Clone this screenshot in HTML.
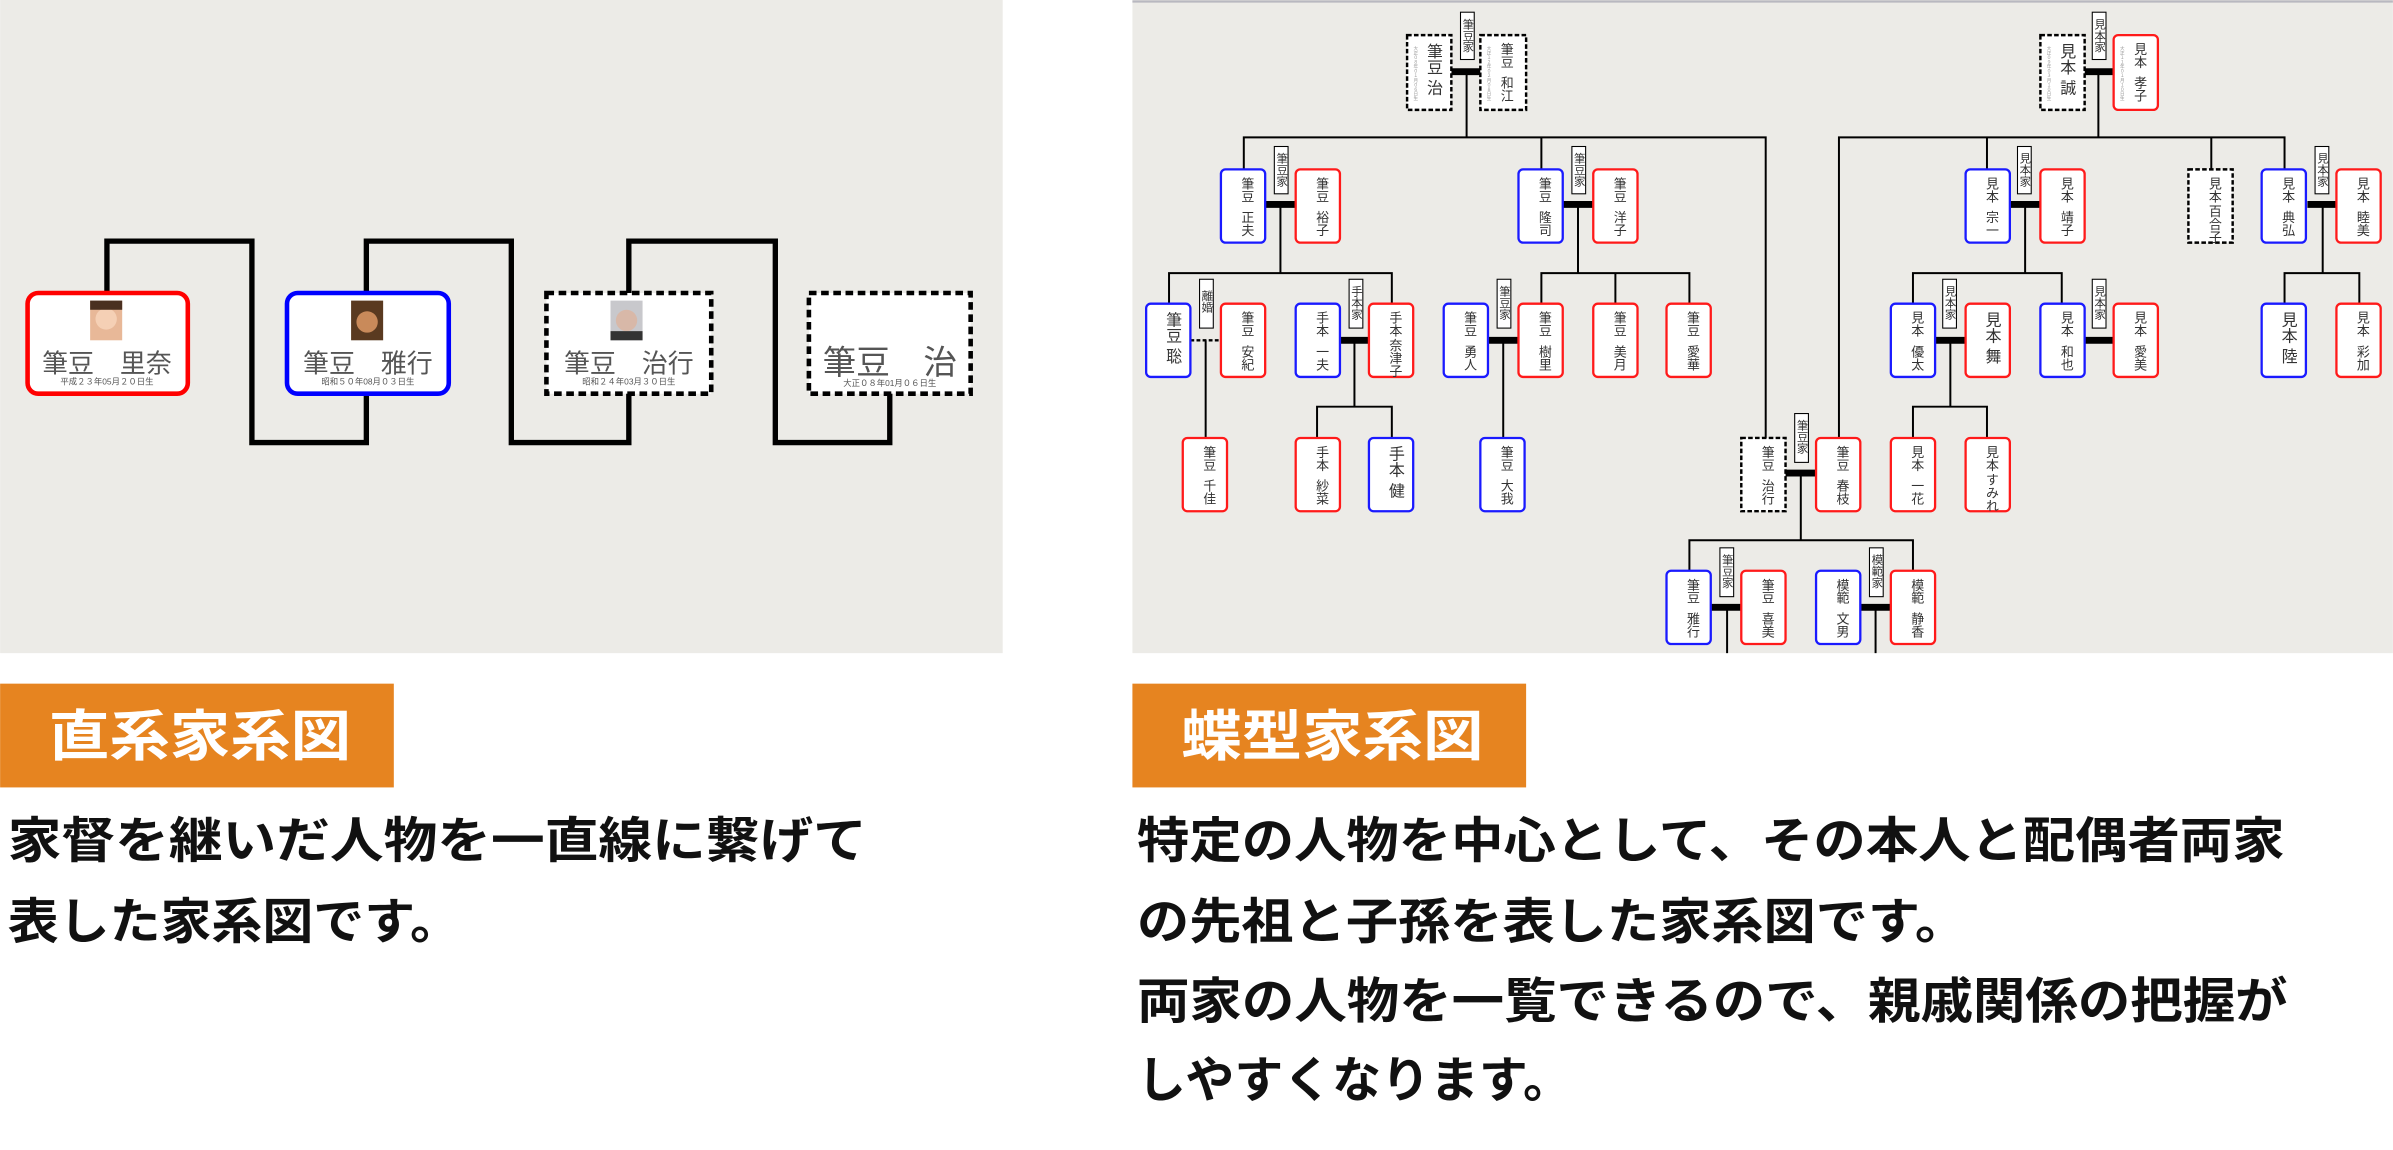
<!DOCTYPE html>
<html><head><meta charset="utf-8"><style>
html,body{margin:0;padding:0;background:#fff;}
svg{display:block;}
.v{writing-mode:vertical-rl;font-family:"Liberation Sans","Noto Sans CJK JP",sans-serif;font-size:8.5px;fill:#333;}
.vb{writing-mode:vertical-rl;font-family:"Liberation Sans","Noto Sans CJK JP",sans-serif;font-size:10.5px;fill:#333;}
.d{writing-mode:vertical-rl;font-family:"Liberation Sans","Noto Sans CJK JP",sans-serif;font-size:3px;fill:#999;}
.lb{writing-mode:vertical-rl;font-family:"Liberation Sans","Noto Sans CJK JP",sans-serif;font-size:7.5px;fill:#333;}
.j{font-family:"Liberation Sans","Noto Sans CJK JP",sans-serif;}
</style></head><body>
<svg width="2393" height="1150" viewBox="0 0 1568 753.6" xmlns="http://www.w3.org/2000/svg">
<rect x="0" y="0" width="657" height="428" fill="#ecebe7"/>
<rect x="742" y="0" width="826" height="428" fill="#ecebe7"/>
<line x1="742" y1="1" x2="1568" y2="1" stroke="#b8b8c0" stroke-width="1.5"/>

<!-- LEFT DIAGRAM -->
<g stroke="#000" stroke-width="3.5" fill="none" stroke-linecap="square">
<polyline points="70,192 70,158 165,158 165,290 240,290 240,258"/>
<polyline points="240,192 240,158 335,158 335,290 412,290 412,258"/>
<polyline points="412,192 412,158 508,158 508,290 583,290 583,258"/>
</g>
<rect x="18" y="192" width="105" height="66" rx="7" fill="#fff" stroke="#f00" stroke-width="3"/>
<rect x="188" y="192" width="106" height="66" rx="7" fill="#fff" stroke="#00f" stroke-width="3"/>
<rect x="358" y="192" width="108" height="66" fill="#fff" stroke="#000" stroke-width="3" stroke-dasharray="5,3"/>
<rect x="530" y="192" width="106" height="66" fill="#fff" stroke="#000" stroke-width="3" stroke-dasharray="5,3"/>
<rect x="59" y="197" width="21" height="26" fill="#e8b898"/><circle cx="69.5" cy="209" r="7" fill="#f5d0b5"/><rect x="59" y="197" width="21" height="6" fill="#4a3020"/>
<rect x="230" y="197" width="21" height="26" fill="#5a3a20"/><circle cx="240.5" cy="211" r="7" fill="#c98a5a"/>
<rect x="400" y="197" width="21" height="26" fill="#c8c8cc"/><circle cx="410.5" cy="210" r="7" fill="#d8b8a8"/><rect x="400" y="217" width="21" height="6" fill="#333"/>
<g class="j" fill="#555" text-anchor="middle">
<text x="70" y="244" font-size="17">筆豆　里奈</text>
<text x="70" y="252" font-size="5.5">平成２３年05月２０日生</text>
<text x="241" y="244" font-size="17">筆豆　雅行</text>
<text x="241" y="252" font-size="5.5">昭和５０年08月０３日生</text>
<text x="412" y="244" font-size="17">筆豆　治行</text>
<text x="412" y="252" font-size="5.5">昭和２４年03月３０日生</text>
<text x="583" y="245" font-size="22">筆豆　治</text>
<text x="583" y="253" font-size="5.5">大正０８年01月０６日生</text>
</g>

<!-- RIGHT TREE LINES -->
<g stroke="#000" stroke-width="1.3" fill="none">
<polyline points="961,47 961,90"/><polyline points="815,111 815,90 1157,90 1157,287"/><line x1="1010" y1="90" x2="1010" y2="111"/>
<polyline points="1375,47 1375,90"/><polyline points="1205,287 1205,90 1497,90 1497,111"/><line x1="1302" y1="90" x2="1302" y2="111"/><line x1="1449" y1="90" x2="1449" y2="111"/>
<line x1="839" y1="134" x2="839" y2="179"/><polyline points="766,199 766,179 912,179 912,199"/>
<line x1="1034" y1="134" x2="1034" y2="179"/><polyline points="1010,199 1010,179 1107,179 1107,199"/><line x1="1058.5" y1="179" x2="1058.5" y2="199"/>
<line x1="1327" y1="134" x2="1327" y2="179"/><polyline points="1253.5,199 1253.5,179 1351,179 1351,199"/>
<line x1="1522" y1="134" x2="1522" y2="179"/><polyline points="1497,199 1497,179 1546,179 1546,199"/>
<line x1="790" y1="223" x2="790" y2="287"/>
<line x1="887.5" y1="223" x2="887.5" y2="266.5"/><polyline points="863,287 863,266.5 912,266.5 912,287"/>
<line x1="985" y1="223" x2="985" y2="287"/>
<line x1="1278" y1="223" x2="1278" y2="266.5"/><polyline points="1253.5,287 1253.5,266.5 1302,266.5 1302,287"/>
<line x1="1180" y1="310" x2="1180" y2="354"/><polyline points="1107,374 1107,354 1253.5,354 1253.5,374"/>
<line x1="1131.7" y1="398" x2="1131.7" y2="428"/><line x1="1229" y1="398" x2="1229" y2="428"/>
</g>
<g stroke="#000" stroke-width="4.5">
<line x1="951" y1="47" x2="970" y2="47"/><line x1="1366" y1="47" x2="1385" y2="47"/>
<line x1="829" y1="134" x2="849" y2="134"/><line x1="1024" y1="134" x2="1044" y2="134"/><line x1="1317" y1="134" x2="1337" y2="134"/><line x1="1512" y1="134" x2="1531" y2="134"/>
<line x1="878" y1="223" x2="897" y2="223"/><line x1="975" y1="223" x2="995" y2="223"/><line x1="1268" y1="223" x2="1288" y2="223"/><line x1="1366" y1="223" x2="1385" y2="223"/>
<line x1="1170" y1="310" x2="1190" y2="310"/>
<line x1="1121" y1="398" x2="1141" y2="398"/><line x1="1219" y1="398" x2="1239" y2="398"/>
</g>
<line x1="780" y1="223" x2="800" y2="223" stroke="#000" stroke-width="1.5" stroke-dasharray="2.5,1.5"/>

<!-- NODES -->
<g stroke-width="1.5" fill="#fff">
<g stroke="#000" stroke-dasharray="3,1.5" stroke-width="1.6">
<rect x="922" y="23" width="29" height="49"/><rect x="970" y="23" width="30" height="49"/>
<rect x="1337" y="23" width="29" height="49"/><rect x="1434" y="111" width="29" height="48"/>
<rect x="1141" y="287" width="29" height="48"/>
</g>
<g stroke="#1a1aff">
<rect x="800" y="111" width="29" height="48" rx="3"/><rect x="995" y="111" width="29" height="48" rx="3"/><rect x="1288" y="111" width="29" height="48" rx="3"/><rect x="1482" y="111" width="29" height="48" rx="3"/>
<rect x="751" y="199" width="29" height="48" rx="3"/><rect x="849" y="199" width="29" height="48" rx="3"/><rect x="946" y="199" width="29" height="48" rx="3"/><rect x="1239" y="199" width="29" height="48" rx="3"/><rect x="1337" y="199" width="29" height="48" rx="3"/><rect x="1482" y="199" width="29" height="48" rx="3"/>
<rect x="897" y="287" width="29" height="48" rx="3"/><rect x="970" y="287" width="29" height="48" rx="3"/>
<rect x="1092" y="374" width="29" height="48" rx="3"/><rect x="1190" y="374" width="29" height="48" rx="3"/>
</g>
<g stroke="#ff1a1a">
<rect x="1385" y="23" width="29" height="49" rx="3"/>
<rect x="849" y="111" width="29" height="48" rx="3"/><rect x="1044" y="111" width="29" height="48" rx="3"/><rect x="1337" y="111" width="29" height="48" rx="3"/><rect x="1531" y="111" width="29" height="48" rx="3"/>
<rect x="800" y="199" width="29" height="48" rx="3"/><rect x="897" y="199" width="29" height="48" rx="3"/><rect x="995" y="199" width="29" height="48" rx="3"/><rect x="1044" y="199" width="29" height="48" rx="3"/><rect x="1092" y="199" width="29" height="48" rx="3"/><rect x="1288" y="199" width="29" height="48" rx="3"/><rect x="1385" y="199" width="29" height="48" rx="3"/><rect x="1531" y="199" width="29" height="48" rx="3"/>
<rect x="775" y="287" width="29" height="48" rx="3"/><rect x="849" y="287" width="29" height="48" rx="3"/><rect x="1190" y="287" width="29" height="48" rx="3"/><rect x="1239" y="287" width="29" height="48" rx="3"/><rect x="1288" y="287" width="29" height="48" rx="3"/>
<rect x="1141" y="374" width="29" height="48" rx="3"/><rect x="1239" y="374" width="29" height="48" rx="3"/>
</g>
<g stroke="#000" stroke-width="0.7">
<rect x="957" y="8" width="9" height="31"/><rect x="1371" y="8" width="9" height="31"/>
<rect x="835" y="96" width="9" height="31"/><rect x="1030" y="96" width="9" height="31"/><rect x="1322" y="96" width="9" height="31"/><rect x="1517" y="96" width="9" height="31"/>
<rect x="786" y="183" width="9" height="32"/><rect x="884" y="183" width="9" height="32"/><rect x="981" y="183" width="9" height="32"/><rect x="1273" y="183" width="9" height="32"/><rect x="1371" y="183" width="9" height="32"/>
<rect x="1176" y="271" width="9" height="32"/><rect x="1127" y="359" width="9" height="32"/><rect x="1225" y="359" width="9" height="32"/>
</g>
</g>

<!-- LABEL TEXT -->
<g class="lb">
<text x="961.5" y="12">筆豆家</text><text x="1375.5" y="12">見本家</text>
<text x="839.5" y="100">筆豆家</text><text x="1034.5" y="100">筆豆家</text><text x="1326.5" y="100">見本家</text><text x="1521.5" y="100">見本家</text>
<text x="790.5" y="190">離婚</text><text x="888.5" y="187">手本家</text><text x="985.5" y="187">筆豆家</text><text x="1277.5" y="187">見本家</text><text x="1375.5" y="187">見本家</text>
<text x="1180.5" y="275">筆豆家</text><text x="1131.5" y="363">筆豆家</text><text x="1229.5" y="363">模範家</text>
</g>

<!-- DATES -->
<g class="d">
<text x="928" y="30">大正０８年０１月０６日生</text><text x="976" y="30">大正１２年０２月０８日生</text>
<text x="1343" y="30">大正０９年０３月１０日生</text><text x="1391" y="30">大正１１年０１月１０日生</text>
</g>

<!-- NODE NAMES -->
<g class="vb">
<text x="939" y="28">筆豆</text><text x="939" y="52">治</text>
<text x="1354" y="28">見本</text><text x="1354" y="52">誠</text>
<text x="768" y="204">筆豆</text><text x="768" y="228">聡</text>
<text x="914" y="292">手本</text><text x="914" y="316">健</text>
<text x="1499" y="204">見本</text><text x="1499" y="228">陸</text>
<text x="1305" y="204">見本</text><text x="1305" y="228">舞</text>
</g>
<g class="v">
<text x="987" y="28">筆豆</text><text x="987" y="50">和江</text>
<text x="1402" y="28">見本</text><text x="1402" y="50">孝子</text>
<text x="817" y="116">筆豆</text><text x="817" y="138">正夫</text>
<text x="866" y="116">筆豆</text><text x="866" y="138">裕子</text>
<text x="1012" y="116">筆豆</text><text x="1012" y="138">隆司</text>
<text x="1061" y="116">筆豆</text><text x="1061" y="138">洋子</text>
<text x="1305" y="116">見本</text><text x="1305" y="138">宗一</text>
<text x="1354" y="116">見本</text><text x="1354" y="138">靖子</text>
<text x="1451" y="116">見本</text><text x="1451" y="134">百合子</text>
<text x="1499" y="116">見本</text><text x="1499" y="138">典弘</text>
<text x="1548" y="116">見本</text><text x="1548" y="138">睦美</text>
<text x="817" y="204">筆豆</text><text x="817" y="226">安紀</text>
<text x="866" y="204">手本</text><text x="866" y="226">一夫</text>
<text x="914" y="204">手本</text><text x="914" y="222">奈津子</text>
<text x="963" y="204">筆豆</text><text x="963" y="226">勇人</text>
<text x="1012" y="204">筆豆</text><text x="1012" y="226">樹里</text>
<text x="1061" y="204">筆豆</text><text x="1061" y="226">美月</text>
<text x="1109" y="204">筆豆</text><text x="1109" y="226">愛華</text>
<text x="1256" y="204">見本</text><text x="1256" y="226">優太</text>
<text x="1354" y="204">見本</text><text x="1354" y="226">和也</text>
<text x="1402" y="204">見本</text><text x="1402" y="226">愛美</text>
<text x="1548" y="204">見本</text><text x="1548" y="226">彩加</text>
<text x="792" y="292">筆豆</text><text x="792" y="314">千佳</text>
<text x="866" y="292">手本</text><text x="866" y="314">紗菜</text>
<text x="987" y="292">筆豆</text><text x="987" y="314">大我</text>
<text x="1158" y="292">筆豆</text><text x="1158" y="314">治行</text>
<text x="1207" y="292">筆豆</text><text x="1207" y="314">春枝</text>
<text x="1256" y="292">見本</text><text x="1256" y="314">一花</text>
<text x="1305" y="292">見本</text><text x="1305" y="310">すみれ</text>
<text x="1109" y="379">筆豆</text><text x="1109" y="401">雅行</text>
<text x="1158" y="379">筆豆</text><text x="1158" y="401">喜美</text>
<text x="1207" y="379">模範</text><text x="1207" y="401">文男</text>
<text x="1256" y="379">模範</text><text x="1256" y="401">静香</text>
</g>

<!-- TEXT SECTION -->
<rect x="0" y="448" width="258" height="68" fill="#e68420"/>
<rect x="742" y="448" width="258" height="68" fill="#e68420"/>
<g class="j" font-weight="bold">
<text x="32" y="495" font-size="36" fill="#fff" textLength="198" lengthAdjust="spacingAndGlyphs">直系家系図</text>
<text x="774" y="495" font-size="36" fill="#fff" textLength="198" lengthAdjust="spacingAndGlyphs">蝶型家系図</text>
<g fill="#111" font-size="32">
<text x="5" y="562" textLength="563" lengthAdjust="spacingAndGlyphs">家督を継いだ人物を一直線に繋げて</text>
<text x="5" y="615" textLength="297" lengthAdjust="spacingAndGlyphs">表した家系図です。</text>
<text x="745" y="562" textLength="752" lengthAdjust="spacingAndGlyphs">特定の人物を中心として、その本人と配偶者両家</text>
<text x="745" y="615" textLength="544" lengthAdjust="spacingAndGlyphs">の先祖と子孫を表した家系図です。</text>
<text x="745" y="667" textLength="754" lengthAdjust="spacingAndGlyphs">両家の人物を一覧できるので、親戚関係の把握が</text>
<text x="745" y="719" textLength="285" lengthAdjust="spacingAndGlyphs">しやすくなります。</text>
</g>
</g>
</svg>
</body></html>
